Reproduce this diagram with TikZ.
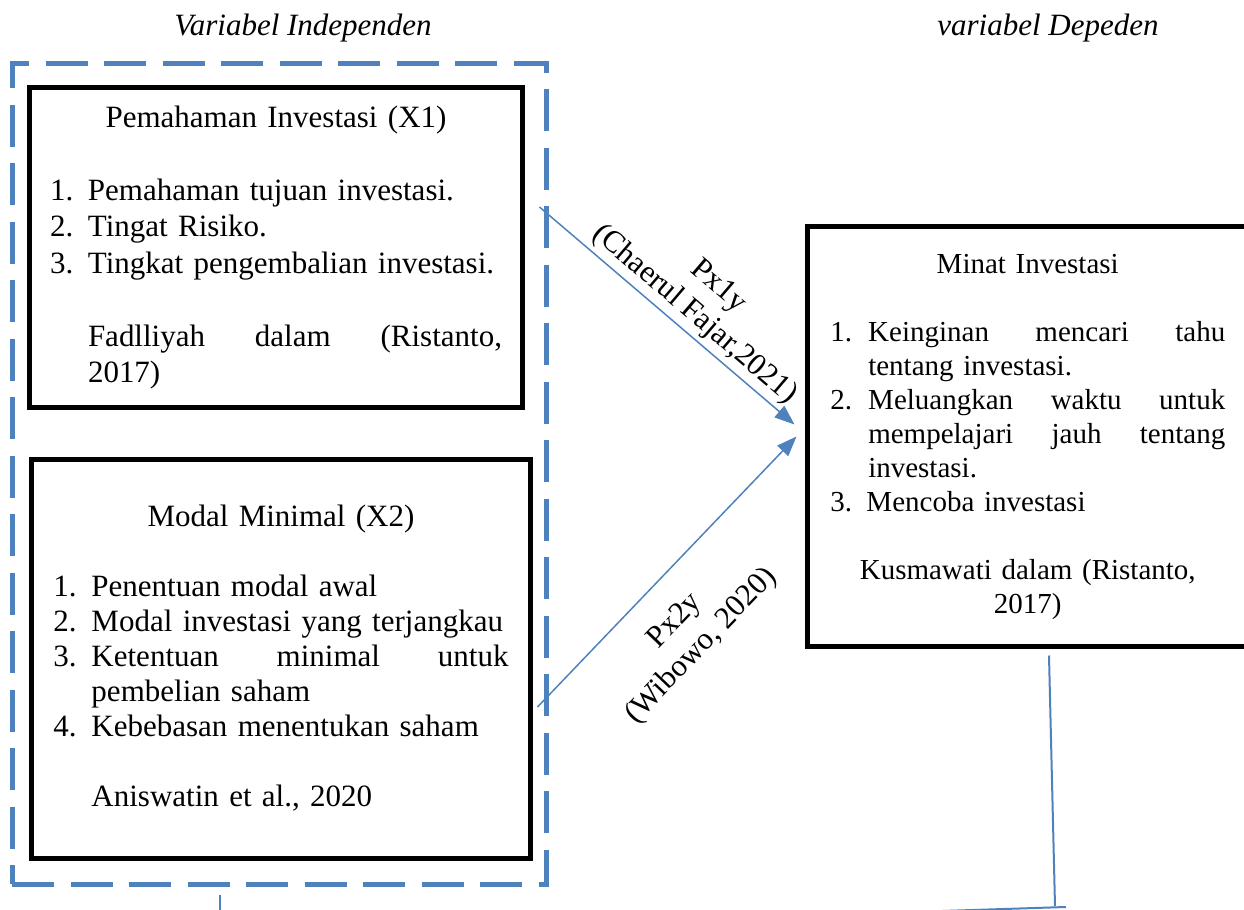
\documentclass[tikz,border=0pt]{standalone}
\usepackage{fontspec}
\setmainfont{Liberation Serif}
\usetikzlibrary{arrows.meta}
\definecolor{biru}{RGB}{79,129,189}
\newcommand{\nomor}[1]{\makebox[19pt][l]{#1}}
\newcommand{\tengah}[1]{\hspace*{\fill}#1\hspace*{\fill}\null}

\begin{document}
\begin{tikzpicture}[x=0.5pt, y=0.5pt, every node/.style={font=\fontsize{15.5}{18.25}\selectfont},
    kotak/.style={draw, rectangle, line width=2.5pt, align=left, inner sep=0pt},
    garis/.style={draw=biru, rectangle, line width=2.5pt, dash pattern=on 21pt off 8.25pt},
    panah/.style={draw=biru, line width=0.75pt, -{Triangle[length=10pt,width=7.5pt]}},
    judul/.style={font=\fontsize{15.5}{18}\selectfont\itshape, anchor=base}]
    \useasboundingbox (0,0) rectangle (1244,-910);

    \node (judulX) [judul] at (303,-35) {Variabel Independen};
    \node (judulY) [judul] at (1048,-35) {variabel Depeden};

    \node (independen) [garis, minimum width=267pt, minimum height=410.5pt] at (279,-473.5) {};

    \node (pemahaman) [kotak, minimum width=246.5pt, minimum height=160pt, text width=226pt] at (276,-247.5) {%
        \tengah{Pemahaman Investasi (X1)}\\[18.25pt]
        \nomor{1.}Pemahaman tujuan investasi.\\
        \nomor{2.}Tingat Risiko.\\
        \nomor{3.}Tingkat pengembalian investasi.\\[18.25pt]
        \hspace*{19pt}Fadlliyah\hfill dalam\hfill (Ristanto,\\
        \hspace*{19pt}2017)};
    \node (modal) [kotak, minimum width=249.5pt, minimum height=199.5pt, text width=227.5pt,
        font=\fontsize{15.5}{17.5}\selectfont] at (281,-658.5) {%
        \tengah{Modal Minimal (X2)}\\[17.5pt]
        \nomor{1.}Penentuan modal awal\\
        \nomor{2.}Modal investasi yang terjangkau\\
        \nomor{3.}Ketentuan\hfill minimal\hfill untuk\\
        \hspace*{19pt}pembelian saham\\
        \nomor{4.}Kebebasan menentukan saham\\[17.5pt]
        \hspace*{19pt}Aniswatin et al., 2020};
    \node (minat) [kotak, minimum width=220.25pt, minimum height=210pt, text width=197.5pt,
        font=\fontsize{14.5}{17}\selectfont] at (1027.75,-436.5) {%
        \tengah{Minat Investasi}\\[17pt]
        \nomor{1.}Keinginan\hfill mencari\hfill tahu\\
        \hspace*{19pt}tentang investasi.\\
        \nomor{2.}Meluangkan\hfill waktu\hfill untuk\\
        \hspace*{19pt}mempelajari\hfill jauh\hfill tentang\\
        \hspace*{19pt}investasi.\\
        3. Mencoba investasi\\[17pt]
        \tengah{Kusmawati dalam (Ristanto,}\\
        \tengah{2017)}};

    \draw[panah] ([xshift=7.25pt,yshift=20.25pt]pemahaman.east) -- node[sloped, above=2pt, pos=0.56, align=center, inner sep=0pt] {Px1y\\(Chaerul Fajar,2021)} ([xshift=-5.25pt,yshift=6pt]minat.west);
    \draw[panah] ([xshift=2.25pt,yshift=-24.25pt]modal.east) -- node[sloped, below=13pt, pos=0.42, align=center, inner sep=0pt] {Px2y\\(Wibowo, 2020)} ([xshift=-4.25pt]minat.west);

    \coordinate (ujungA) at (1055,-906);
    \coordinate (ujungB) at (1066,-907);
    \coordinate (ujungC) at (880,-913);
    \coordinate (ujungD) at (220,-915);
    \draw[biru, line width=1pt] ([xshift=10.625pt,yshift=-3.25pt]minat.south) -- (ujungA);
    \draw[biru, line width=1pt] (ujungB) -- (ujungC);
    \draw[biru, line width=1pt] ([xshift=-29.5pt,yshift=-4pt]independen.south) -- (ujungD);
\end{tikzpicture}
\end{document}
